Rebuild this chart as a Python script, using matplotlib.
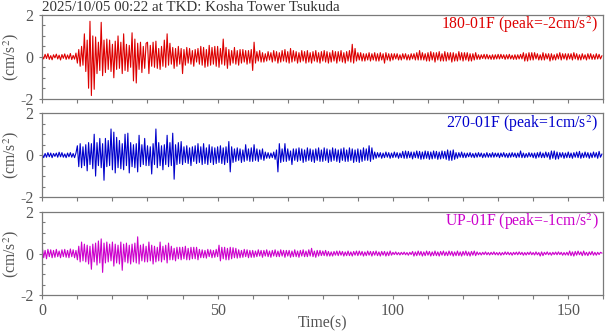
import numpy as np
import matplotlib
matplotlib.use('Agg')
import matplotlib.pyplot as plt
from matplotlib.ticker import MultipleLocator

plt.rcParams['font.family'] = ['Liberation Serif', 'DejaVu Serif']
plt.rcParams['mathtext.fontset'] = 'stix'
plt.rcParams['axes.unicode_minus'] = False

# ---------------- data ----------------
title = "2025/10/05 00:22 at TKD: Kosha Tower Tsukuda"
channels = ["180-01F", "270-01F", "UP-01F"]
peaks = ["-2", "1", "-1"]
dt = 0.4

acc_180 = [
    0.05,-0.10,0.12,-0.08,0.15,-0.12,0.06,-0.14,0.10,-0.05,0.13,-0.10,0.08,-0.15,0.11,-0.07,0.14,-0.12,0.09,-0.10,0.16,-0.13,0.07,-0.11,0.18,
    -0.30,0.35,-0.45,0.50,-0.40,1.10,-0.70,0.80,-1.50,1.70,-1.85,1.00,-1.55,0.95,-0.80,0.70,-0.65,1.65,-0.90,0.80,-0.75,0.85,-0.60,0.80,-0.70,
    0.60,-1.00,0.75,-0.60,1.00,-0.55,0.70,-0.80,1.10,-0.65,0.60,-0.70,0.55,-0.50,1.15,-1.15,0.85,-1.25,0.65,-0.60,0.70,-0.75,0.50,-0.55,0.65,
    0.70,-0.80,0.55,-0.45,0.70,-0.50,0.75,-0.55,0.40,-0.60,0.50,-0.45,0.80,-0.50,1.10,-0.40,0.65,-0.35,0.45,-0.55,0.40,-0.45,0.50,-0.35,0.40,
    -0.80,0.35,-0.40,0.45,-0.30,0.40,-0.35,0.30,-0.45,0.35,-0.25,0.40,-0.35,0.50,-0.40,0.45,-0.50,0.35,-0.45,0.55,-0.40,0.45,-0.35,0.50,-0.45,
    0.50,-0.50,0.40,-0.35,0.85,-0.40,0.45,-0.55,0.35,-0.40,0.30,-0.30,0.45,-0.35,0.30,-0.40,0.35,-0.30,0.35,-0.25,0.30,-0.35,0.30,-0.30,0.35,
    -0.65,0.70,-0.30,0.25,-0.20,0.30,-0.25,0.20,-0.25,0.15,-0.20,0.25,-0.15,0.20,-0.25,0.30,-0.20,0.25,-0.30,0.20,-0.25,0.30,-0.20,0.35,-0.25,
    0.25,-0.30,0.40,-0.25,0.30,-0.20,0.25,-0.30,0.20,-0.25,0.30,-0.20,0.25,-0.30,0.30,-0.25,0.20,-0.30,0.25,-0.20,0.30,-0.25,0.20,-0.30,0.25,
    -0.20,0.30,-0.25,0.25,-0.30,0.20,-0.25,0.30,-0.20,0.25,-0.30,0.25,-0.20,0.30,-0.25,0.20,-0.30,0.25,-0.20,0.30,-0.25,0.60,-0.30,0.40,-0.20,
    0.20,-0.15,0.20,-0.20,0.15,-0.20,0.15,-0.15,0.20,-0.20,0.15,-0.15,0.20,-0.20,0.15,-0.20,0.20,-0.15,0.15,-0.30,0.20,-0.15,0.15,-0.20,0.15,
    -0.15,0.15,-0.10,0.15,-0.15,0.10,-0.15,0.15,-0.10,0.15,-0.15,0.10,-0.15,0.15,-0.10,0.15,-0.15,0.20,-0.15,0.30,-0.15,0.20,-0.15,0.15,-0.20,
    0.20,-0.20,0.25,-0.15,0.20,-0.25,0.20,-0.15,0.25,-0.20,0.15,-0.20,0.25,-0.20,0.20,-0.15,0.20,-0.25,0.20,-0.20,0.15,-0.20,0.25,-0.15,0.20,
    -0.20,0.20,-0.15,0.20,-0.20,0.15,-0.20,0.15,-0.15,0.20,-0.12,0.10,-0.12,0.10,-0.08,0.12,-0.10,0.12,-0.10,0.08,-0.12,0.10,-0.12,0.10,-0.10,
    0.12,-0.10,0.12,-0.08,0.10,-0.12,0.10,-0.10,0.12,-0.10,0.08,-0.12,0.10,-0.12,0.10,-0.10,0.12,-0.10,0.20,-0.20,0.15,-0.20,0.20,-0.15,0.20,
    -0.15,0.20,-0.10,0.15,-0.15,0.10,-0.15,0.20,-0.15,0.15,-0.10,0.15,-0.20,0.15,-0.15,0.10,-0.15,0.15,-0.10,0.20,-0.15,0.15,-0.10,0.15,-0.15,
    0.15,-0.10,0.15,-0.15,0.20,-0.10,0.15,-0.15,0.10,-0.15,0.15,-0.10,0.10,-0.15,0.15,-0.10,0.15,-0.12,0.10,-0.12,0.15,-0.10,0.12,-0.10,0.05,
]

acc_270 = [
    0.05,-0.12,0.08,-0.10,0.12,-0.08,0.10,-0.12,0.08,-0.06,0.10,-0.10,0.14,-0.08,0.12,-0.10,0.06,-0.12,0.10,-0.08,0.12,-0.10,0.08,-0.12,0.10,
    0.45,-0.55,0.55,-0.60,0.40,-0.50,0.50,-0.75,0.60,-0.45,0.55,-0.65,1.00,-1.00,0.60,-0.50,0.80,-0.60,0.55,-1.20,0.80,-0.55,0.70,-0.50,1.25,
    -0.70,1.10,-0.85,0.85,-0.60,0.70,-0.65,0.55,-0.70,1.00,-0.50,1.05,-0.85,0.60,-0.55,0.50,-0.60,0.55,-0.80,0.95,-0.55,0.50,-0.45,0.80,-0.50,
    0.45,-0.50,0.40,-0.90,0.55,-0.45,1.25,-0.60,0.60,-0.50,0.45,-0.70,0.50,-0.45,0.95,-0.55,0.60,-0.50,1.05,-1.15,0.50,-0.45,0.60,-0.40,0.65,
    -0.45,0.40,-0.35,0.45,-0.40,0.35,-0.50,0.40,-0.30,0.45,-0.40,0.55,-0.35,0.40,-0.45,0.55,-0.40,0.35,-0.45,0.50,-0.35,0.40,-0.45,0.35,-0.40,
    0.40,-0.35,0.45,-0.40,0.35,-0.45,0.40,-0.35,0.65,-0.80,0.40,-0.35,0.30,-0.30,0.35,-0.25,0.30,-0.35,0.25,-0.30,0.50,-0.25,0.30,-0.30,0.35,
    -0.30,0.50,-0.25,0.30,-0.30,0.25,-0.20,0.30,-0.25,0.15,-0.15,0.12,-0.15,0.10,-0.12,0.15,-0.20,0.25,-0.80,0.55,-0.35,0.30,-0.30,0.55,-0.30,
    0.30,-0.25,0.20,-0.45,0.30,-0.25,0.30,-0.30,0.35,-0.25,0.30,-0.35,0.25,-0.30,0.35,-0.25,0.30,-0.30,0.25,-0.35,0.30,-0.25,0.35,-0.30,0.25,
    -0.30,0.35,-0.25,0.30,-0.35,0.25,-0.30,0.35,-0.25,0.30,-0.30,0.25,-0.35,0.30,-0.25,0.35,-0.30,0.25,-0.30,0.35,-0.25,0.30,-0.35,0.25,-0.30,
    0.30,-0.35,0.25,-0.30,0.35,-0.25,0.30,-0.25,0.45,-0.30,0.35,-0.20,0.15,-0.15,0.12,-0.10,0.12,-0.15,0.10,-0.12,0.15,-0.10,0.12,-0.15,0.10,
    -0.12,0.15,-0.10,0.12,-0.15,0.10,-0.12,0.18,-0.15,0.20,-0.15,0.18,-0.12,0.15,-0.18,0.15,-0.12,0.20,-0.15,0.18,-0.20,0.15,-0.18,0.20,-0.15,
    0.18,-0.20,0.15,-0.18,0.20,-0.15,0.18,-0.20,0.15,-0.18,0.20,-0.15,0.18,-0.20,0.25,-0.25,0.20,-0.25,0.25,-0.20,0.12,-0.15,0.12,-0.10,0.15,
    -0.12,0.10,-0.12,0.10,-0.08,0.12,-0.10,0.08,-0.12,0.10,-0.10,0.12,-0.08,0.10,-0.12,0.08,-0.10,0.12,-0.10,0.08,-0.10,0.12,-0.10,0.10,-0.08,
    0.10,-0.12,0.10,-0.08,0.12,-0.10,0.08,-0.12,0.10,-0.10,0.12,-0.08,0.10,-0.12,0.10,-0.10,0.20,-0.12,0.10,-0.12,0.08,-0.10,0.12,-0.08,0.10,
    -0.12,0.10,-0.15,0.12,-0.10,0.15,-0.12,0.10,-0.12,0.15,-0.10,0.12,-0.20,0.20,-0.15,0.20,-0.20,0.15,-0.18,0.12,-0.10,0.12,-0.15,0.10,-0.12,
    0.15,-0.12,0.10,-0.15,0.12,-0.10,0.15,-0.12,0.18,-0.15,0.10,-0.12,0.15,-0.10,0.12,-0.15,0.10,-0.12,0.15,-0.10,0.12,-0.15,0.18,-0.10,0.05,
]

acc_up = [
    0.30,-0.20,0.15,-0.25,0.20,-0.15,0.18,-0.20,0.15,-0.18,0.20,-0.15,0.12,-0.20,0.18,-0.15,0.20,-0.18,0.15,-0.20,0.22,-0.15,0.18,-0.20,0.15,
    -0.30,0.35,-0.40,0.55,-0.35,0.45,-0.40,0.40,-0.50,0.35,-0.75,0.45,-0.40,0.50,-0.55,0.60,-0.45,0.70,-0.90,0.50,-0.45,0.55,-0.40,0.45,-0.35,
    0.55,-0.60,0.45,-0.45,0.40,-0.50,0.55,-0.80,0.45,-0.40,0.50,-0.45,0.40,-0.50,0.45,-0.40,0.50,-0.45,0.80,-0.50,0.40,-0.35,0.45,-0.40,0.35,
    -0.40,0.55,-0.35,0.40,-0.50,0.35,-0.40,0.30,-0.35,0.55,-0.40,0.35,-0.30,0.40,-0.45,0.50,-0.30,0.35,-0.30,0.25,-0.35,0.30,-0.25,0.30,-0.30,
    0.30,-0.25,0.35,-0.30,0.25,-0.30,0.30,-0.25,0.30,-0.25,0.30,-0.30,0.20,-0.20,0.18,-0.20,0.15,-0.22,0.20,-0.15,0.18,-0.20,0.15,-0.18,0.20,
    -0.15,0.40,-0.35,0.30,-0.25,0.30,-0.30,0.25,-0.30,0.30,-0.25,0.28,-0.20,0.25,-0.22,0.18,-0.20,0.15,-0.18,0.20,-0.15,0.18,-0.20,0.15,-0.18,
    0.15,-0.18,0.12,-0.15,0.18,-0.12,0.15,-0.18,0.15,-0.12,0.18,-0.15,0.12,-0.18,0.15,-0.12,0.18,-0.15,0.12,-0.15,0.18,-0.12,0.15,-0.18,0.15,
    -0.12,0.15,-0.18,0.12,-0.15,0.18,-0.15,0.12,-0.18,0.15,-0.12,0.18,-0.15,0.12,-0.15,0.18,-0.12,0.25,-0.15,0.12,-0.18,0.15,-0.12,0.15,-0.10,
    0.12,-0.10,0.15,-0.12,0.10,-0.12,0.08,-0.12,0.10,-0.08,0.12,-0.10,0.12,-0.08,0.10,-0.12,0.08,-0.10,0.12,-0.10,0.08,-0.12,0.10,-0.08,0.12,
    -0.10,0.12,-0.08,0.10,-0.12,0.08,-0.10,0.12,-0.08,0.10,-0.12,0.10,-0.08,0.12,-0.10,0.08,-0.12,0.10,-0.08,0.10,-0.12,0.08,-0.10,0.12,-0.08,
    0.06,-0.05,0.08,-0.06,0.05,-0.07,0.06,-0.05,0.07,-0.06,0.05,-0.08,0.06,-0.05,0.10,-0.12,0.08,-0.10,0.12,-0.08,0.10,-0.12,0.08,-0.10,0.12,
    -0.08,0.10,-0.12,0.08,-0.10,0.12,-0.10,0.08,-0.12,0.10,-0.08,0.12,-0.10,0.08,-0.10,0.12,-0.08,0.10,-0.12,0.08,-0.10,0.12,-0.10,0.08,-0.12,
    0.10,-0.08,0.12,-0.10,0.08,-0.12,0.10,-0.08,0.12,-0.10,0.08,-0.06,0.05,-0.07,0.06,-0.05,0.08,-0.06,0.05,-0.07,0.06,-0.05,0.08,-0.06,0.05,
    -0.07,0.06,-0.08,0.05,-0.06,0.08,-0.05,0.07,-0.06,0.05,-0.08,0.06,-0.05,0.07,-0.06,0.08,-0.05,0.06,-0.08,0.05,-0.07,0.06,-0.05,0.08,-0.06,
    0.05,-0.07,0.08,-0.06,0.05,-0.12,0.08,-0.10,0.06,-0.05,0.08,-0.06,0.05,-0.08,0.06,-0.05,0.07,-0.06,0.08,-0.05,0.06,-0.08,0.05,-0.07,0.06,
    -0.08,0.12,-0.10,0.08,-0.12,0.10,-0.08,0.12,-0.06,0.08,-0.10,0.12,-0.08,0.06,-0.10,0.08,-0.06,0.10,-0.08,0.06,-0.08,0.06,-0.05,0.06,0.02,
]

traces = [acc_180, acc_270, acc_up]
colors = ['#dd0000', '#0000cc', '#cc00cc']

# ---------------- figure ----------------
W, H = 605, 334
fig = plt.figure(figsize=(W / 100, H / 100), dpi=100)
gray_axis = '#7a7a7a'
gray_text = '#555555'

left_px, right_px = 42.3, 603.3
tops_px = [15.0, 113.3, 211.7]
h_px = 83.7

axes = []
for i, (data, col, ch, pk) in enumerate(zip(traces, colors, channels, peaks)):
    top = tops_px[i]
    ax = fig.add_axes([left_px / W, 1 - (top + h_px) / H,
                       (right_px - left_px) / W, h_px / H])
    t = np.arange(len(data)) * dt
    ax.plot(t, data, color=col, lw=0.8)
    ax.set_xlim(0, 160)
    ax.set_ylim(-2, 2)
    ax.set_yticks([-2, 0, 2])
    ax.yaxis.set_minor_locator(MultipleLocator(0.5))
    ax.set_xticks([0, 50, 100, 150])
    ax.xaxis.set_minor_locator(MultipleLocator(10))
    for s in ax.spines.values():
        s.set_color(gray_axis)
        s.set_linewidth(0.9)
    ax.tick_params(axis='x', which='both', direction='out', length=3.2,
                   width=0.8, color=gray_axis, labelcolor=gray_text,
                   labelsize=11.5, pad=2.0, top=False)
    ax.tick_params(axis='y', which='major', direction='out', length=2.5,
                   width=0.8, color=gray_axis, labelcolor=gray_text,
                   labelsize=11.5, pad=4, right=False)
    ax.tick_params(axis='y', which='minor', direction='in', length=2.5,
                   width=0.8, color=gray_axis, right=False)
    if i < 2:
        ax.tick_params(axis='x', labelbottom=False)
    ax.text(0.991, 0.827, f"{ch} (peak={pk}cm/s$^2$)", color=col,
            fontsize=11.3, ha='right', va='baseline', transform=ax.transAxes)
    fig.text(11.0 / W, 1 - (top + h_px / 2) / H, "(cm/s$^2$)", rotation=90,
             ha='center', va='center', fontsize=11.3, color=gray_text)
    axes.append(ax)

fig.text((left_px + right_px) / 2 / W, 1 - 327.0 / H, "Time(s)",
         fontsize=11.3, color=gray_text, ha='center', va='baseline')
fig.text(left_px / W, 1 - 10.8 / H, title, fontsize=10.8, color='#333333',
         ha='left', va='baseline')

fig.savefig('out.png', dpi=100)
